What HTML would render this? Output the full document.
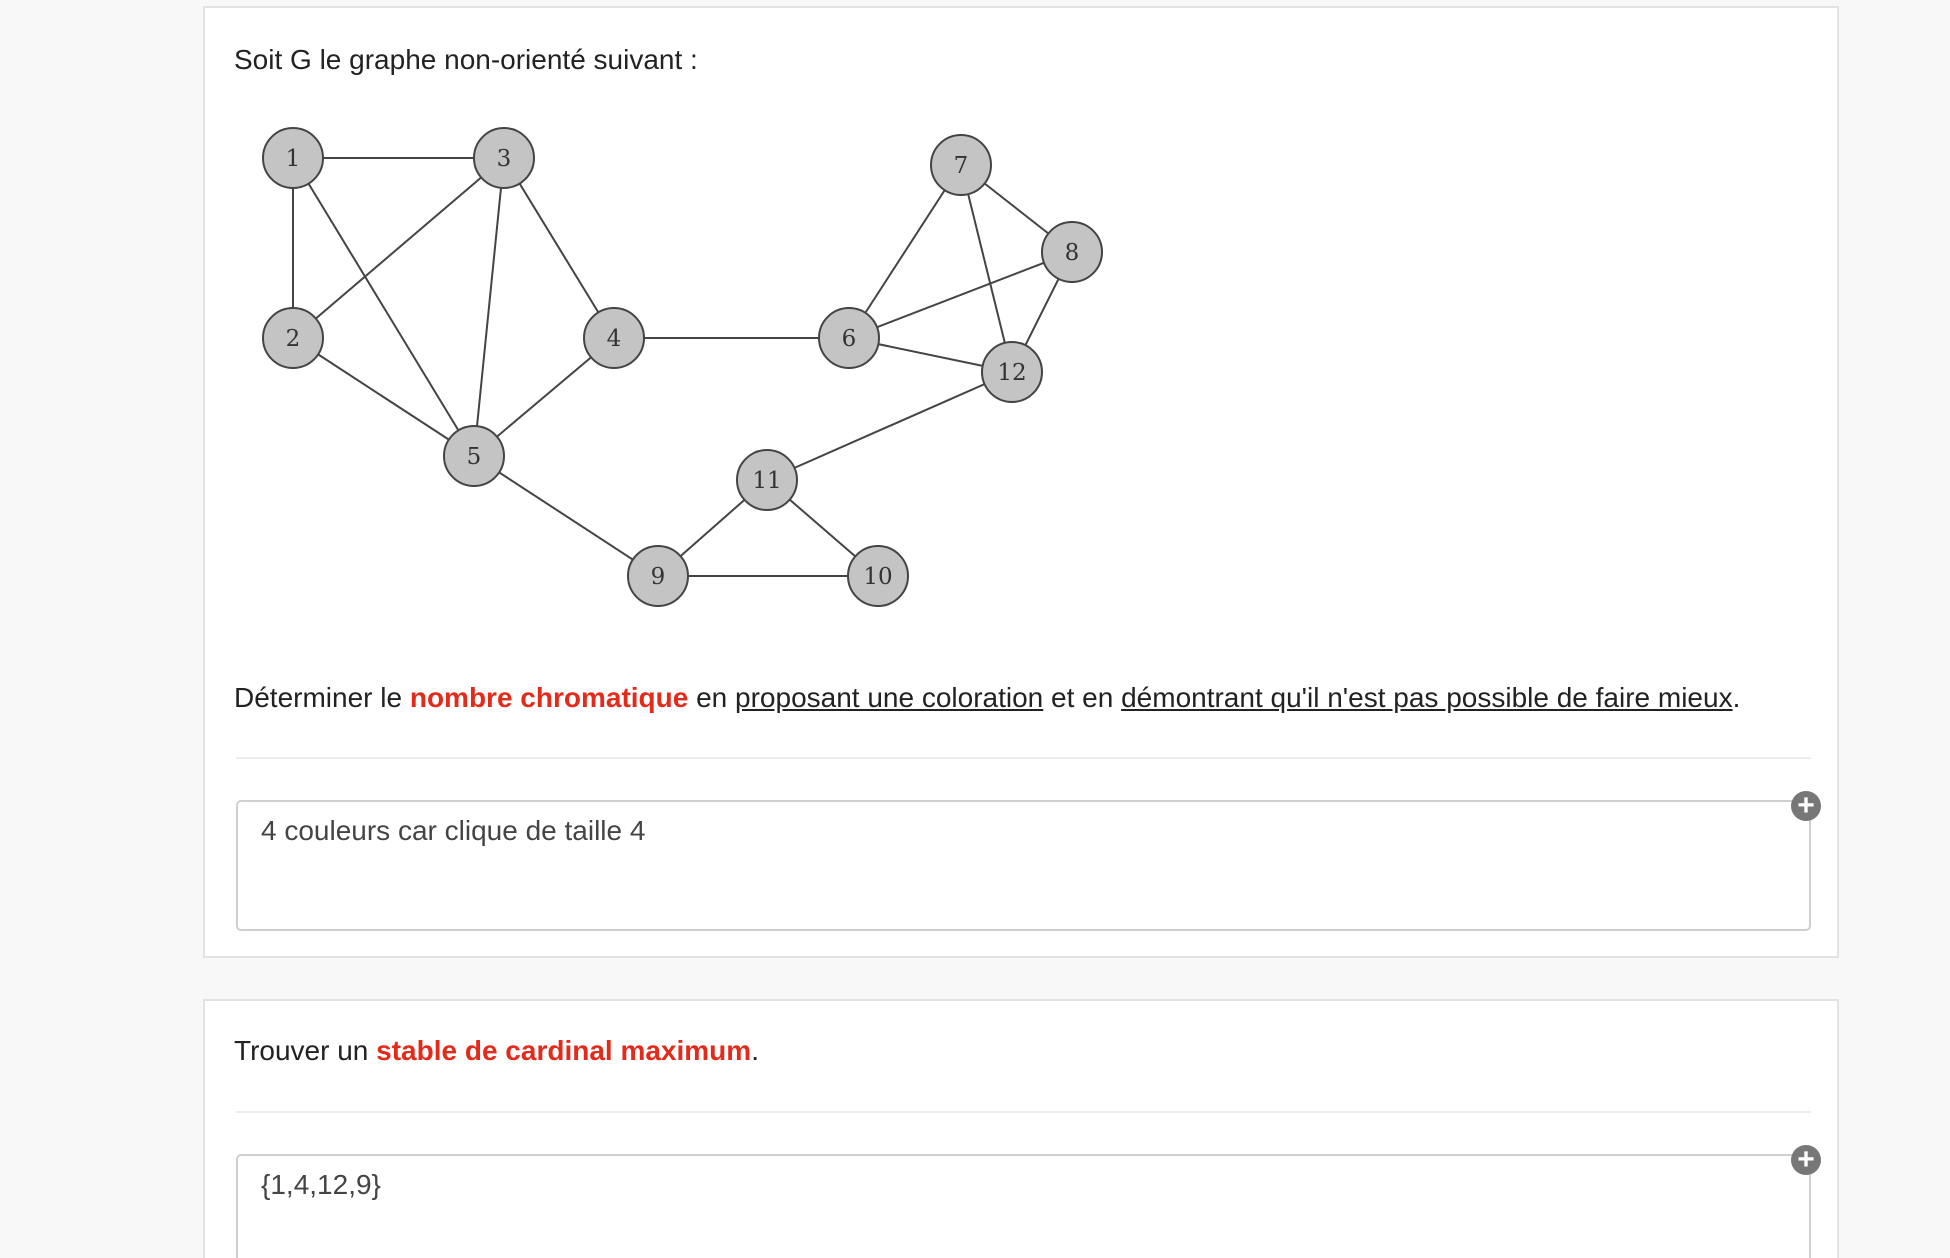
<!DOCTYPE html>
<html><head><meta charset="utf-8"><style>
html,body{margin:0;width:1950px;height:1258px;overflow:hidden}
body{background:#f8f8f8;font-family:"Liberation Sans",Arial,sans-serif;position:relative;color:#222}
.card{position:absolute;left:203px;width:1636px;background:#fff;border:2px solid #e2e2e2;box-sizing:border-box;overflow:hidden}
.t{position:absolute;font-size:28px;white-space:nowrap}
.red{color:#e32b1b;font-weight:bold}
u{text-decoration:underline}
.hr{position:absolute;left:31px;width:1575px;height:2px;background:#ececec}
.box{position:absolute;left:31px;width:1575px;border:2px solid #cfcfcf;border-radius:5px;box-sizing:border-box;background:#fff}
.ans{position:absolute;left:23px;top:13px;font-size:28px;color:#444}
.plus{position:absolute;width:30px;height:30px;border-radius:50%;background:#777;color:#fff;font-weight:bold;font-size:30px;line-height:30px;text-align:center}
</style></head><body>
<div class="card" style="top:6px;height:952px">
<div class="t" style="left:29px;top:36px">Soit G le graphe non-orienté suivant :</div>
<div class="t" style="left:29px;top:674px">Déterminer le <span class="red">nombre chromatique</span> en <u>proposant une coloration</u> et en <u>démontrant qu'il n'est pas possible de faire mieux</u>.</div>
<div class="hr" style="top:749px"></div>
<div class="box" style="top:792px;height:131px"><div class="ans">4 couleurs car clique de taille 4</div></div>
<div class="plus" style="left:1586px;top:783px">+</div>
</div>
<div class="card" style="top:999px;height:259px;border-bottom:none">
<div class="t" style="left:29px;top:34px">Trouver un <span class="red">stable de cardinal maximum</span>.</div>
<div class="hr" style="top:110px"></div>
<div class="box" style="top:153px;height:104px;border-bottom:none;border-radius:5px 5px 0 0"><div class="ans">{1,4,12,9}</div></div>
<div class="plus" style="left:1586px;top:144px">+</div>
</div>
<svg id="g" width="1950" height="1000" style="position:absolute;left:0;top:0"></svg>
<script>
const nodeIds=["1","2","3","4","5","6","7","8","9","10","11","12"];
const nodeX=[293,293,504,614,474,849,961,1072,658,878,767,1012];
const nodeY=[158,338,158,338,456,338,165,252,576,576,480,372];
const edges=[["1","3"],["1","2"],["1","5"],["2","3"],["2","5"],["3","5"],["3","4"],["4","5"],["4","6"],["6","7"],["6","8"],["6","12"],["7","8"],["7","12"],["8","12"],["12","11"],["11","9"],["11","10"],["9","10"],["5","9"]];
const svg=document.getElementById('g');const NS="http://www.w3.org/2000/svg";
function pos(id){const i=nodeIds.indexOf(id);return [nodeX[i],nodeY[i]];}
edges.forEach(e=>{const a=pos(e[0]),b=pos(e[1]);const l=document.createElementNS(NS,'line');
l.setAttribute('x1',a[0]);l.setAttribute('y1',a[1]);l.setAttribute('x2',b[0]);l.setAttribute('y2',b[1]);
l.setAttribute('stroke','#444');l.setAttribute('stroke-width','2');


svg.appendChild(l);});
nodeIds.forEach((id,i)=>{const c=document.createElementNS(NS,'circle');
c.setAttribute('cx',nodeX[i]);c.setAttribute('cy',nodeY[i]);c.setAttribute('r',30);
c.setAttribute('fill','#c4c4c4');c.setAttribute('stroke','#444');c.setAttribute('stroke-width','2');


svg.appendChild(c);
const t=document.createElementNS(NS,'text');t.setAttribute('x',nodeX[i]);t.setAttribute('y',nodeY[i]+8);
t.setAttribute('text-anchor','middle');t.setAttribute('font-size','23');t.setAttribute('font-family','DejaVu Serif, serif');t.setAttribute('fill','#333');
t.textContent=id;


svg.appendChild(t);});
</script>
</body></html>
